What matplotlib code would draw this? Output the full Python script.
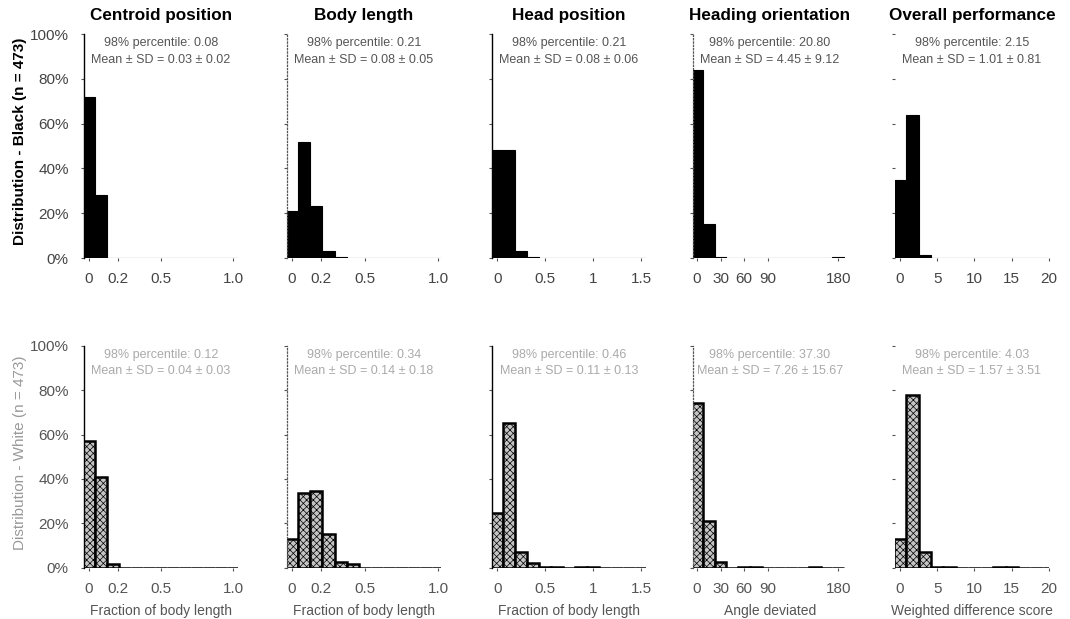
import matplotlib
matplotlib.use("Agg")
import matplotlib.pyplot as plt
import numpy as np

plt.rcParams['font.family'] = ['Liberation Sans', 'DejaVu Sans']
plt.rcParams['hatch.linewidth'] = 0.5

# ---------------- data ----------------
metrics = ["Centroid position", "Body length", "Head position",
           "Heading orientation", "Overall performance"]
x_labels = ["Fraction of body length", "Fraction of body length",
            "Fraction of body length", "Angle deviated", "Weighted difference score"]
x_max = [1.0, 1.0, 1.5, 180, 20]
x_ticks = [[0, 0.2, 0.5, 1.0], [0, 0.2, 0.5, 1.0], [0, 0.5, 1, 1.5],
           [0, 30, 60, 90, 180], [0, 5, 10, 15, 20]]
x_ticklabels = [["0", "0.2", "0.5", "1.0"], ["0", "0.2", "0.5", "1.0"],
                ["0", "0.5", "1", "1.5"], ["0", "30", "60", "90", "180"],
                ["0", "5", "10", "15", "20"]]
x_lims = [(-0.035, 1.035), (-0.034, 1.02), (-0.056, 1.55), (-5, 191), (-0.67, 20.0)]
n_bins = 13

# percent of fish per bin (bin centres = k * x_max / 12)
black_pct = [
    [72, 28, 0, 0, 0, 0, 0, 0, 0, 0, 0, 0, 0],
    [21, 52, 23, 3.3, 0.5, 0, 0, 0, 0, 0, 0, 0, 0],
    [48, 48, 3, 0.3, 0, 0, 0, 0, 0.2, 0, 0, 0, 0],
    [84, 15, 0.3, 0, 0, 0, 0, 0, 0, 0, 0, 0, 0.3],
    [35, 64, 1.5, 0, 0, 0, 0, 0, 0, 0.2, 0, 0, 0],
]
white_pct = [
    [57, 41, 1.7, 0, 0, 0, 0, 0, 0, 0, 0, 0, 0],
    [13, 33.5, 34.5, 15, 2.4, 1.5, 0, 0, 0, 0, 0, 0, 0],
    [24.5, 65, 7, 2, 0.5, 0.3, 0, 0.4, 0.4, 0, 0, 0, 0],
    [74, 21, 2.7, 0, 0.5, 0.5, 0, 0, 0, 0, 0.3, 0, 0],
    [13, 78, 7, 0.5, 0.5, 0, 0, 0, 0.3, 0.3, 0, 0, 0],
]
black_p98 = ["0.08", "0.21", "0.21", "20.80", "2.15"]
black_mean_sd = ["0.03 ± 0.02", "0.08 ± 0.05", "0.08 ± 0.06", "4.45 ± 9.12", "1.01 ± 0.81"]
white_p98 = ["0.12", "0.34", "0.46", "37.30", "4.03"]
white_mean_sd = ["0.04 ± 0.03", "0.14 ± 0.18", "0.11 ± 0.13", "7.26 ± 15.67", "1.57 ± 3.51"]
y_ticks = [0, 0.2, 0.4, 0.6, 0.8, 1.0]
y_ticklabels = ["0%", "20%", "40%", "60%", "80%", "100%"]
row_ylabels = ["Distribution - Black (n = 473)", "Distribution - White (n = 473)"]

# ---------------- layout ----------------
W, H = 1070, 619
fig = plt.figure(figsize=(W / 100, H / 100), dpi=100)
col_left = [84, 287, 492, 693, 895]
ax_w = 154
rows = [(258, 224), (567.7, 222)]  # baseline y (px), height (px)
spine_styles = ['-', ':', '-', ':', None]

for r, (base, hgt) in enumerate(rows):
    data = black_pct if r == 0 else white_pct
    p98 = black_p98 if r == 0 else white_p98
    msd = black_mean_sd if r == 0 else white_mean_sd
    for c in range(5):
        ax = fig.add_axes([col_left[c] / W, 1 - base / H, ax_w / W, hgt / H])
        w = x_max[c] / 12
        centers = np.arange(n_bins) * w
        vals = np.array(data[c]) / 100.0
        if r == 0:
            ax.bar(centers, vals, width=w, color='black', edgecolor='black',
                   linewidth=0.8, zorder=2)
        else:
            ax.bar(centers, vals, width=w, color='#c4c4c4', edgecolor='black',
                   linewidth=1.8, hatch='xxxxx', zorder=2)
        ax.set_xlim(*x_lims[c])
        ax.set_ylim(0, 1.0)
        for s in ['top', 'right', 'bottom']:
            ax.spines[s].set_visible(False)
        st = spine_styles[c]
        if st is None:
            ax.spines['left'].set_visible(False)
        else:
            ax.spines['left'].set_linestyle(st)
            ax.spines['left'].set_linewidth(1.0 if st == '-' else 0.9)
            ax.spines['left'].set_color('black' if st == '-' else '#555555')
        ax.set_xticks(x_ticks[c])
        ax.set_xticklabels(x_ticklabels[c])
        ax.set_yticks(y_ticks)
        if c == 0:
            ax.set_yticklabels(y_ticklabels)
        else:
            ax.set_yticklabels([])
        tick_col = '#444444' if r == 0 else '#555555'
        ax.tick_params(axis='x', length=2, width=0.8, pad=8, labelsize=11,
                       labelcolor=tick_col, color='#555555')
        ax.tick_params(axis='y', length=2, width=0.8, pad=9, labelsize=11,
                       labelcolor=tick_col, color='#555555')
        txt_col = '#555555' if r == 0 else '#aaaaaa'
        ax.text(0.5, 0.96, f"98% percentile: {p98[c]}", transform=ax.transAxes,
                ha='center', va='center', fontsize=9, color=txt_col)
        ax.text(0.5, 0.885, f"Mean ± SD = {msd[c]}", transform=ax.transAxes,
                ha='center', va='center', fontsize=9, color=txt_col)
        if r == 0:
            ax.set_title(metrics[c], fontsize=12.3, fontweight='bold', pad=10)
        else:
            ax.set_xlabel(x_labels[c], fontsize=10, color='#555555', labelpad=6)
        if c == 0:
            if r == 0:
                ax.set_ylabel(row_ylabels[r], fontsize=11, fontweight='bold',
                              color='black')
            else:
                ax.set_ylabel(row_ylabels[r], fontsize=11, color='#999999')
            ax.yaxis.set_label_coords(-0.37, 0.52)

fig.savefig("out.png", dpi=100)
